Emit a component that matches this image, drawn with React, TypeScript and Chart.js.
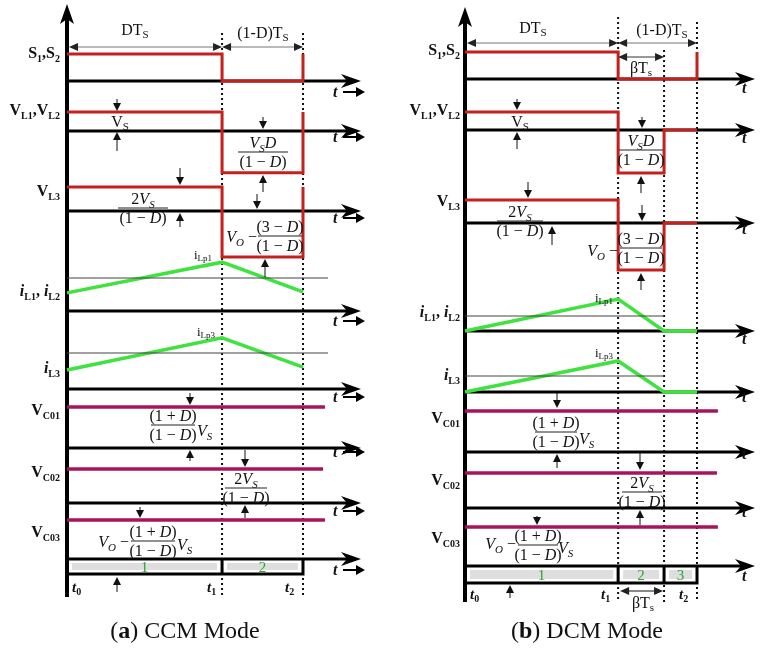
import React, { useEffect, useRef } from "react";
import { Chart, registerables } from "chart.js";

Chart.register(...registerables);

// ---------------- data (time in units of Ts, levels in per-row units) ----------------
const CCM_D = 0.657;
const DCM_D = 0.66;
const DCM_BETA = 0.198;

const CCM_SW_T = [0, CCM_D, CCM_D, 1, 1];
const CCM_S12 = [1, 1, 0, 0, 1];
const CCM_VL12 = [1, 1, -2.2, -2.2, 1];
const CCM_VL3 = [1, 1, -1.92, -1.92, 1];
const CCM_IL_T = [0, CCM_D, 1];
const CCM_IL12 = [0.55, 1.48, 0.58];
const CCM_IL3 = [0.53, 1.42, 0.61];
const CCM_IREF_T = [0, 1.106];
const CCM_IREF = [1, 1];
const CCM_VC_T = [0, 1.093];
const CCM_VC02_T = [0, 1.085];
const CCM_VC = [1, 1];
const CCM_SEG_T = [0, CCM_D, 1];
const CCM_SEG_LABELS = ["1", "2"];

const DCM_SW_T = [0, DCM_D, DCM_D, 1, 1];
const DCM_S12 = [1, 1, 0, 0, 1];
const DCM_VL_T = [0, DCM_D, DCM_D, DCM_D + DCM_BETA, DCM_D + DCM_BETA, 1];
const DCM_VL12 = [1, 1, -2.39, -2.39, 0, 0];
const DCM_VL3 = [1, 1, -2.04, -2.04, 0, 0];
const DCM_IL_T = [0, DCM_D, DCM_D + DCM_BETA, 1];
const DCM_IL12 = [0, 2.13, 0, 0];
const DCM_IL3 = [0, 1.94, 0, 0];
const DCM_IREF_T = [0, DCM_D + DCM_BETA];
const DCM_IREF = [1, 1];
const DCM_VC_T = [0, 1.09];
const DCM_VC02_T = [0, 1.086];
const DCM_VC = [1, 1];
const DCM_SEG_T = [0, DCM_D, DCM_D + DCM_BETA, 1];
const DCM_SEG_LABELS = ["1", "2", "3"];

// ---------------- layout ----------------
const W = 765;
const H = 651;
const SERIF = '"Liberation Serif", "Times New Roman", serif';
const RED = "#c4201c";
const GREEN = "#3fe23f";
const MAGENTA = "#a8145a";

const ROWS_A = {
  s: { base: 81, unit: 27 },
  vl12: { base: 131, unit: 19 },
  vl3: { base: 211, unit: 24 },
  il12: { base: 311, unit: 33 },
  il3: { base: 389, unit: 36 },
  vc01: { base: 448, unit: 41 },
  vc02: { base: 503, unit: 34 },
  vc03: { base: 559, unit: 39 },
};
const ROWS_B = {
  s: { base: 79, unit: 27 },
  vl12: { base: 130, unit: 18 },
  vl3: { base: 223, unit: 23 },
  il12: { base: 331, unit: 15 },
  il3: { base: 392, unit: 16 },
  vc01: { base: 452, unit: 41 },
  vc02: { base: 508, unit: 35 },
  vc03: { base: 566, unit: 39 },
};

type Part = { t: string; s?: number; b?: boolean; i?: boolean; dy?: number };

const fontOf = (p: Part, base: number) =>
  `${p.i ? "italic " : ""}${p.b ? "bold " : ""}${p.s ?? base}px ${SERIF}`;

function drawRich(ctx: any, x: number, y: number, parts: Part[], align: string, base = 16, color = "#111") {
  ctx.save();
  ctx.textBaseline = "alphabetic";
  ctx.textAlign = "left";
  ctx.fillStyle = color;
  let w = 0;
  for (const p of parts) {
    ctx.font = fontOf(p, base);
    w += ctx.measureText(p.t).width;
  }
  let cx = align === "left" ? x : align === "center" ? x - w / 2 : x - w;
  for (const p of parts) {
    ctx.font = fontOf(p, base);
    ctx.fillText(p.t, cx, y + (p.dy ?? 0));
    cx += ctx.measureText(p.t).width;
  }
  ctx.restore();
}

const lbl = (main: string, sub: string, italic = false): Part[] => [
  { t: main, b: true, i: italic },
  { t: sub, b: true, s: 10, dy: 4 },
];
const LBL_S12: Part[] = [...lbl("S", "1"), { t: ",", b: true }, ...lbl("S", "2")];
const LBL_VL12: Part[] = [...lbl("V", "L1"), { t: ",", b: true }, ...lbl("V", "L2")];
const LBL_VL3: Part[] = lbl("V", "L3");
const LBL_IL12: Part[] = [...lbl("i", "L1", true), { t: ", ", b: true }, ...lbl("i", "L2", true)];
const LBL_IL3: Part[] = lbl("i", "L3", true);
const LBL_VC01: Part[] = lbl("V", "C01");
const LBL_VC02: Part[] = lbl("V", "C02");
const LBL_VC03: Part[] = lbl("V", "C03");

const ONE_MINUS_D: Part[] = [{ t: "(1 − " }, { t: "D", i: true }, { t: ")" }];
const ONE_PLUS_D: Part[] = [{ t: "(1 + " }, { t: "D", i: true }, { t: ")" }];
const THREE_MINUS_D: Part[] = [{ t: "(3 − " }, { t: "D", i: true }, { t: ")" }];
const VSD: Part[] = [{ t: "V", i: true }, { t: "S", i: true, s: 11, dy: 4 }, { t: "D", i: true }];
const TWO_VS: Part[] = [{ t: "2" }, { t: "V", i: true }, { t: "S", i: true, s: 11, dy: 4 }];
const VS_IT: Part[] = [{ t: "V", i: true }, { t: "S", i: true, s: 11, dy: 4 }];
const VO_MINUS: Part[] = [{ t: "V", i: true }, { t: "O", i: true, s: 11, dy: 4 }, { t: " −" }];

function frac(ctx: any, cx: number, ly: number, hw: number, num: Part[], den: Part[]) {
  ctx.save();
  ctx.strokeStyle = "#222";
  ctx.lineWidth = 1;
  ctx.beginPath();
  ctx.moveTo(cx - hw, ly);
  ctx.lineTo(cx + hw, ly);
  ctx.stroke();
  ctx.restore();
  drawRich(ctx, cx, ly - 4, num, "center", 16);
  drawRich(ctx, cx, ly + 15, den, "center", 16);
}

function arrowV(ctx: any, x: number, tail: number, head: number) {
  const d = head > tail ? 1 : -1;
  ctx.save();
  ctx.strokeStyle = "#111";
  ctx.fillStyle = "#111";
  ctx.lineWidth = 1;
  ctx.beginPath();
  ctx.moveTo(x, tail);
  ctx.lineTo(x, head - d * 5);
  ctx.stroke();
  ctx.beginPath();
  ctx.moveTo(x, head);
  ctx.lineTo(x - 4, head - d * 8);
  ctx.lineTo(x + 4, head - d * 8);
  ctx.closePath();
  ctx.fill();
  ctx.restore();
}

function arrowH2(ctx: any, x1: number, x2: number, y: number, color = "#777") {
  ctx.save();
  ctx.strokeStyle = color;
  ctx.lineWidth = 1;
  ctx.beginPath();
  ctx.moveTo(x1 + 3, y);
  ctx.lineTo(x2 - 3, y);
  ctx.stroke();
  ctx.fillStyle = "#222";
  ctx.beginPath();
  ctx.moveTo(x1, y);
  ctx.lineTo(x1 + 9, y - 4);
  ctx.lineTo(x1 + 9, y + 4);
  ctx.closePath();
  ctx.fill();
  ctx.beginPath();
  ctx.moveTo(x2, y);
  ctx.lineTo(x2 - 9, y - 4);
  ctx.lineTo(x2 - 9, y + 4);
  ctx.closePath();
  ctx.fill();
  ctx.restore();
}

function hAxis(ctx: any, x0: number, tip: number, y: number) {
  ctx.save();
  ctx.strokeStyle = "#000";
  ctx.fillStyle = "#000";
  ctx.lineWidth = 3;
  ctx.beginPath();
  ctx.moveTo(x0, y);
  ctx.lineTo(tip - 10, y);
  ctx.stroke();
  ctx.beginPath();
  ctx.moveTo(tip, y);
  ctx.lineTo(tip - 20, y - 7);
  ctx.lineTo(tip - 14, y);
  ctx.lineTo(tip - 20, y + 7);
  ctx.closePath();
  ctx.fill();
  ctx.restore();
}

function vAxis(ctx: any, x: number, top: number, bottom: number) {
  ctx.save();
  ctx.strokeStyle = "#000";
  ctx.fillStyle = "#000";
  ctx.lineWidth = 4;
  ctx.beginPath();
  ctx.moveTo(x, bottom);
  ctx.lineTo(x, top + 12);
  ctx.stroke();
  ctx.beginPath();
  ctx.moveTo(x, top);
  ctx.lineTo(x - 7, top + 20);
  ctx.lineTo(x, top + 15);
  ctx.lineTo(x + 7, top + 20);
  ctx.closePath();
  ctx.fill();
  ctx.restore();
}

function dotted(ctx: any, x: number, top: number, bottom: number) {
  ctx.save();
  ctx.strokeStyle = "#111";
  ctx.lineWidth = 2;
  ctx.setLineDash([2, 3]);
  ctx.beginPath();
  ctx.moveTo(x, top);
  ctx.lineTo(x, bottom);
  ctx.stroke();
  ctx.restore();
}

function tLabel(ctx: any, x: number, y: number, withArrow: boolean) {
  drawRich(ctx, x, y, [{ t: "t", i: true, b: true }], "left", 16);
  if (withArrow) {
    ctx.save();
    ctx.strokeStyle = "#000";
    ctx.fillStyle = "#000";
    ctx.lineWidth = 2;
    ctx.beginPath();
    ctx.moveTo(x + 10, y - 5);
    ctx.lineTo(x + 26, y - 5);
    ctx.stroke();
    ctx.beginPath();
    ctx.moveTo(x + 32, y - 5);
    ctx.lineTo(x + 23, y - 10);
    ctx.lineTo(x + 23, y);
    ctx.closePath();
    ctx.fill();
    ctx.restore();
  }
}

const PANELS = [
  {
    xId: "xa",
    rows: ROWS_A,
    tip: 361,
    axisTop: 4,
    bottom: 597,
    boxBottom: 574,
    dotted: [
      { t: CCM_D, top: 33 },
      { t: 1, top: 33 },
    ],
    segT: CCM_SEG_T,
    segLabels: CCM_SEG_LABELS,
    segLabelY: 572,
    labelRight: 60,
    labels: [
      [LBL_S12, 58],
      [LBL_VL12, 115],
      [LBL_VL3, 196],
      [LBL_IL12, 296],
      [LBL_IL3, 373],
      [LBL_VC01, 415],
      [LBL_VC02, 477],
      [LBL_VC03, 537],
    ],
    tX: 333,
    tArrow: true,
    tOffsets: [16, 11, 12, 15, 13, 9, 13, 16],
  },
  {
    xId: "xb",
    rows: ROWS_B,
    tip: 755,
    axisTop: 7,
    bottom: 602,
    boxBottom: 583,
    dotted: [
      { t: DCM_D, top: 17 },
      { t: DCM_D + DCM_BETA, top: 50 },
      { t: 1, top: 22 },
    ],
    segT: DCM_SEG_T,
    segLabels: DCM_SEG_LABELS,
    segLabelY: 580,
    labelRight: 460,
    labels: [
      [LBL_S12, 55],
      [LBL_VL12, 115],
      [LBL_VL3, 206],
      [LBL_IL12, 317],
      [LBL_IL3, 380],
      [LBL_VC01, 423],
      [LBL_VC02, 485],
      [LBL_VC03, 543],
    ],
    tX: 742,
    tArrow: false,
    tOffsets: [14, 13, 11, 13, 10, 7, 9, 15],
  },
];

const diagramPlugin = {
  id: "diagram",
  beforeDatasetsDraw(chart: any) {
    const ctx = chart.ctx;
    const ys = chart.scales.y;
    ctx.save();
    ctx.fillStyle = "#fff";
    ctx.fillRect(0, 0, W, H);
    ctx.restore();
    for (const P of PANELS) {
      const xs = chart.scales[P.xId];
      const x0 = xs.getPixelForValue(0);
      for (const d of P.dotted) dotted(ctx, xs.getPixelForValue(d.t), d.top, P.bottom);
      const bases = Object.values(P.rows).map((r: any) => ys.getPixelForValue(r.base));
      // bottom state box
      const boxTop = bases[bases.length - 1];
      ctx.save();
      ctx.fillStyle = "#dedede";
      for (let i = 0; i < P.segT.length - 1; i++) {
        const a = xs.getPixelForValue(P.segT[i]) + 5;
        const b = xs.getPixelForValue(P.segT[i + 1]) - 5;
        ctx.fillRect(a, boxTop + 4, b - a, P.boxBottom - boxTop - 8);
      }
      ctx.strokeStyle = "#000";
      ctx.lineWidth = 3;
      ctx.beginPath();
      ctx.moveTo(x0, P.boxBottom);
      ctx.lineTo(xs.getPixelForValue(1), P.boxBottom);
      for (let i = 1; i < P.segT.length; i++) {
        const px = xs.getPixelForValue(P.segT[i]);
        ctx.moveTo(px, boxTop);
        ctx.lineTo(px, P.boxBottom + 1.5);
      }
      ctx.stroke();
      ctx.restore();
      for (let i = 0; i < P.segLabels.length; i++) {
        const c = (xs.getPixelForValue(P.segT[i]) + xs.getPixelForValue(P.segT[i + 1])) / 2;
        drawRich(ctx, c, P.segLabelY, [{ t: P.segLabels[i] }], "center", 15, "#2aa52a");
      }
      for (const y of bases) hAxis(ctx, x0, P.tip, y);
      vAxis(ctx, x0, P.axisTop, P.bottom);
    }
  },
  afterDatasetsDraw(chart: any) {
    const ctx = chart.ctx;
    const ys = chart.scales.y;
    for (const P of PANELS) {
      for (const [parts, y] of P.labels as any) drawRich(ctx, P.labelRight, y, parts, "right", 16);
      const bases = Object.values(P.rows).map((r: any) => ys.getPixelForValue(r.base));
      bases.forEach((y, i) => tLabel(ctx, P.tX, y + P.tOffsets[i], P.tArrow));
    }
    const xa = chart.scales.xa;
    const xb = chart.scales.xb;
    const ax = (t: number) => xa.getPixelForValue(t);
    const bx = (t: number) => xb.getPixelForValue(t);

    // ---------- panel (a) annotations ----------
    arrowH2(ctx, ax(0) + 2, ax(CCM_D), 47);
    arrowH2(ctx, ax(CCM_D), ax(1), 47);
    drawRich(ctx, 135, 35, [{ t: "DT" }, { t: "S", s: 11, dy: 3 }], "center", 16);
    drawRich(ctx, 263, 38, [{ t: "(1-D)T" }, { t: "S", s: 11, dy: 3 }], "center", 16);

    drawRich(ctx, 120, 127, [{ t: "V" }, { t: "S", s: 11, dy: 3 }], "center", 16);
    arrowV(ctx, 117, 99, 111);
    arrowV(ctx, 117, 151, 132);

    frac(ctx, 263, 152, 25, VSD, ONE_MINUS_D);
    arrowV(ctx, 263, 117, 129);
    arrowV(ctx, 263, 192, 175);

    frac(ctx, 143, 208, 25, TWO_VS, ONE_MINUS_D);
    arrowV(ctx, 180, 168, 185);
    arrowV(ctx, 180, 227, 213);

    drawRich(ctx, 257, 242, VO_MINUS, "right", 16);
    frac(ctx, 280, 236, 22, THREE_MINUS_D, ONE_MINUS_D);
    arrowV(ctx, 257, 194, 209);
    arrowV(ctx, 265, 277, 259);

    drawRich(ctx, 194, 259, [{ t: "i" }, { t: "Lp1", s: 9, dy: 2 }], "left", 13);
    drawRich(ctx, 197, 336, [{ t: "i" }, { t: "Lp3", s: 9, dy: 2 }], "left", 13);

    frac(ctx, 173, 425, 22, ONE_PLUS_D, ONE_MINUS_D);
    drawRich(ctx, 197, 436, VS_IT, "left", 16);
    arrowV(ctx, 190, 393, 405);
    arrowV(ctx, 190, 461, 450);

    frac(ctx, 246, 488, 21, TWO_VS, ONE_MINUS_D);
    arrowV(ctx, 245, 450, 467);
    arrowV(ctx, 245, 518, 505);

    drawRich(ctx, 129, 547, VO_MINUS, "right", 16);
    frac(ctx, 153, 541, 22, ONE_PLUS_D, ONE_MINUS_D);
    drawRich(ctx, 177, 550, VS_IT, "left", 16);
    arrowV(ctx, 140, 507, 518);

    arrowV(ctx, 117, 592, 577);
    const tsub = (n: string): Part[] => [{ t: "t", i: true, b: true }, { t: n, b: true, s: 10, dy: 3 }];
    drawRich(ctx, 72, 592, tsub("0"), "left", 15);
    drawRich(ctx, 207, 592, tsub("1"), "left", 15);
    drawRich(ctx, 285, 592, tsub("2"), "left", 15);

    drawRich(ctx, 185, 638, [{ t: "(" }, { t: "a", b: true }, { t: ") CCM Mode" }], "center", 24);

    // ---------- panel (b) annotations ----------
    arrowH2(ctx, bx(0) + 2, bx(DCM_D), 43);
    arrowH2(ctx, bx(DCM_D), bx(1), 43);
    arrowH2(ctx, bx(DCM_D), bx(DCM_D + DCM_BETA), 57, "#333");
    drawRich(ctx, 533, 33, [{ t: "DT" }, { t: "S", s: 11, dy: 3 }], "center", 16);
    drawRich(ctx, 662, 35, [{ t: "(1-D)T" }, { t: "S", s: 11, dy: 3 }], "center", 16);
    drawRich(ctx, 641, 73, [{ t: "βT" }, { t: "s", s: 11, dy: 3 }], "center", 16);

    drawRich(ctx, 520, 127, [{ t: "V" }, { t: "S", s: 11, dy: 3 }], "center", 16);
    arrowV(ctx, 517, 99, 110);
    arrowV(ctx, 517, 149, 132);

    frac(ctx, 641, 150, 22, VSD, ONE_MINUS_D);
    arrowV(ctx, 642, 117, 128);
    arrowV(ctx, 641, 193, 176);

    frac(ctx, 520, 221, 23, TWO_VS, ONE_MINUS_D);
    arrowV(ctx, 528, 182, 198);
    arrowV(ctx, 552, 245, 226);

    drawRich(ctx, 618, 256, VO_MINUS, "right", 16);
    frac(ctx, 641, 248, 21, THREE_MINUS_D, ONE_MINUS_D);
    arrowV(ctx, 642, 205, 221);
    arrowV(ctx, 641, 290, 273);

    drawRich(ctx, 595, 302, [{ t: "i" }, { t: "Lp1", s: 9, dy: 2 }], "left", 13);
    drawRich(ctx, 595, 357, [{ t: "i" }, { t: "Lp3", s: 9, dy: 2 }], "left", 13);

    frac(ctx, 556, 432, 21, ONE_PLUS_D, ONE_MINUS_D);
    drawRich(ctx, 579, 444, VS_IT, "left", 16);
    arrowV(ctx, 557, 393, 408);
    arrowV(ctx, 557, 468, 454);

    frac(ctx, 642, 492, 20, TWO_VS, ONE_MINUS_D);
    arrowV(ctx, 640, 453, 470);
    arrowV(ctx, 640, 525, 510);

    drawRich(ctx, 516, 549, VO_MINUS, "right", 16);
    frac(ctx, 538, 545, 20, ONE_PLUS_D, ONE_MINUS_D);
    drawRich(ctx, 558, 553, VS_IT, "left", 16);
    arrowV(ctx, 537, 516, 525);

    arrowV(ctx, 510, 598, 585);
    drawRich(ctx, 470, 599, tsub("0"), "left", 15);
    drawRich(ctx, 601, 599, tsub("1"), "left", 15);
    drawRich(ctx, 679, 599, tsub("2"), "left", 15);
    arrowH2(ctx, bx(DCM_D) + 2, bx(DCM_D + DCM_BETA) - 1, 591, "#111");
    drawRich(ctx, 643, 608, [{ t: "βT" }, { t: "s", s: 11, dy: 3 }], "center", 16);

    drawRich(ctx, 587, 638, [{ t: "(" }, { t: "b", b: true }, { t: ") DCM Mode" }], "center", 24);
  },
};

function series(ts: number[], vs: number[], row: { base: number; unit: number }) {
  return ts.map((t, i) => ({ x: t, y: row.base - vs[i] * row.unit }));
}

function ds(xId: string, data: any[], color: string, width: number) {
  return {
    data,
    xAxisID: xId,
    yAxisID: "y",
    borderColor: color,
    borderWidth: width,
    pointRadius: 0,
    fill: false,
    tension: 0,
    borderCapStyle: "butt",
    borderJoinStyle: "miter",
  };
}

export default function App() {
  const ref = useRef<HTMLCanvasElement | null>(null);
  useEffect(() => {
    const canvas = ref.current;
    if (!canvas) return;
    const A = ROWS_A;
    const B = ROWS_B;
    const datasets = [
      ds("xa", series(CCM_IREF_T, CCM_IREF, A.il12), "#444", 1.2),
      ds("xa", series(CCM_IREF_T, CCM_IREF, A.il3), "#444", 1.2),
      ds("xa", series(CCM_SW_T, CCM_S12, A.s), RED, 3),
      ds("xa", series(CCM_SW_T, CCM_VL12, A.vl12), RED, 3),
      ds("xa", series(CCM_SW_T, CCM_VL3, A.vl3), RED, 3),
      ds("xa", series(CCM_IL_T, CCM_IL12, A.il12), GREEN, 3.5),
      ds("xa", series(CCM_IL_T, CCM_IL3, A.il3), GREEN, 3.5),
      ds("xa", series(CCM_VC_T, CCM_VC, A.vc01), MAGENTA, 3.5),
      ds("xa", series(CCM_VC02_T, CCM_VC, A.vc02), MAGENTA, 3.5),
      ds("xa", series(CCM_VC_T, CCM_VC, A.vc03), MAGENTA, 3.5),
      ds("xb", series(DCM_IREF_T, DCM_IREF, B.il12), "#444", 1.2),
      ds("xb", series(DCM_IREF_T, DCM_IREF, B.il3), "#444", 1.2),
      ds("xb", series(DCM_SW_T, DCM_S12, B.s), RED, 3),
      ds("xb", series(DCM_VL_T, DCM_VL12, B.vl12), RED, 3),
      ds("xb", series(DCM_VL_T, DCM_VL3, B.vl3), RED, 3),
      ds("xb", series(DCM_IL_T, DCM_IL12, B.il12), GREEN, 3.5),
      ds("xb", series(DCM_IL_T, DCM_IL3, B.il3), GREEN, 3.5),
      ds("xb", series(DCM_VC_T, DCM_VC, B.vc01), MAGENTA, 3.5),
      ds("xb", series(DCM_VC02_T, DCM_VC, B.vc02), MAGENTA, 3.5),
      ds("xb", series(DCM_VC_T, DCM_VC, B.vc03), MAGENTA, 3.5),
    ];
    // panel origins / period widths on the page (pixels)
    const aX0 = 67, aUnit = 236, bX0 = 465, bUnit = 232;
    const chart = new Chart(canvas, {
      type: "line",
      data: { datasets } as any,
      options: {
        animation: false,
        responsive: false,
        maintainAspectRatio: false,
        events: [],
        layout: { padding: 0 },
        plugins: {
          legend: { display: false },
          tooltip: { enabled: false },
          title: { display: false },
        },
        scales: {
          xa: { type: "linear", display: false, min: -aX0 / aUnit, max: (W - aX0) / aUnit },
          xb: { type: "linear", display: false, min: -bX0 / bUnit, max: (W - bX0) / bUnit },
          y: { type: "linear", display: false, min: 0, max: H, reverse: true },
        },
      } as any,
      plugins: [diagramPlugin as any],
    });
    return () => chart.destroy();
  }, []);
  return (
    <div style={{ position: "absolute", left: 0, top: 0, width: W, height: H, background: "#fff" }}>
      <canvas ref={ref} width={W} height={H} style={{ display: "block", width: W, height: H }} />
    </div>
  );
}
